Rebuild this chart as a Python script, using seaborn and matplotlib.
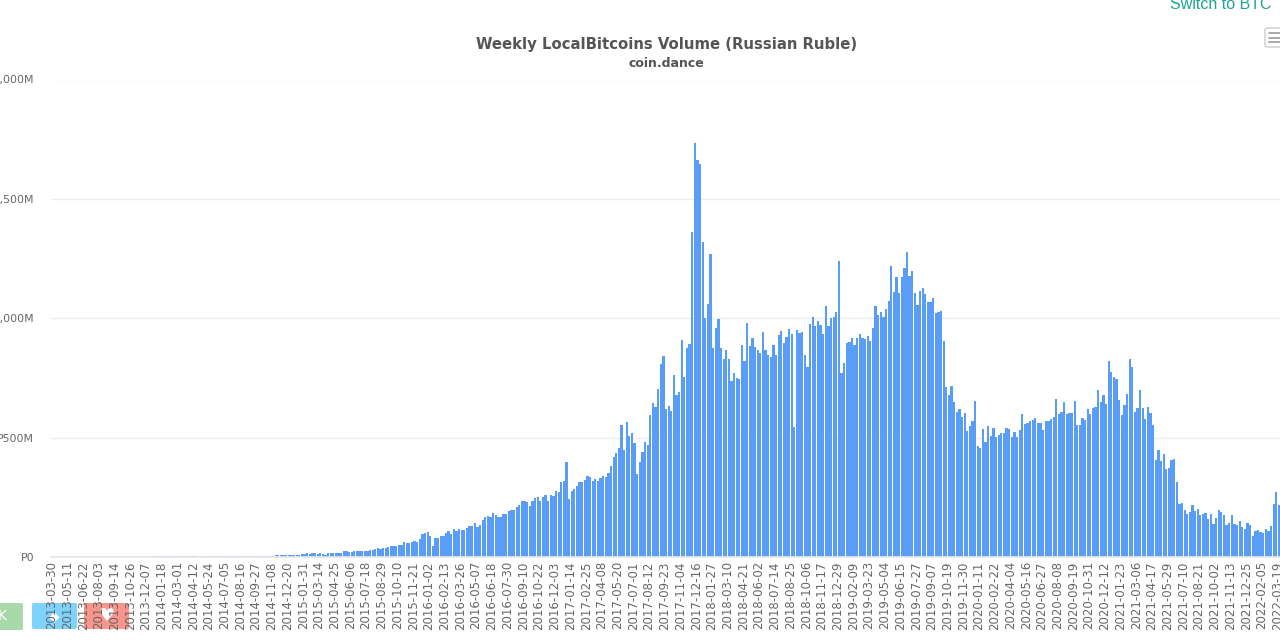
import matplotlib
matplotlib.use("Agg")
import matplotlib.pyplot as plt
from matplotlib.patches import FancyBboxPatch
import numpy as np
import pandas as pd
import seaborn as sns

# weekly volume in millions of rubles
vol_2013 = [0.1, 0.1, 0.2, 0.2, 0.3, 0.2, 0.3, 0.3, 0.4, 0.3, 0.4, 0.4, 0.5, 0.4, 0.5, 0.5, 0.6, 0.6, 0.5, 0.7,
            0.6, 0.7, 0.8, 0.9, 0.8, 1.0, 1.1, 1.0, 1.2, 1.3, 1.3, 1.5, 1.4, 1.2, 1.5, 1.6, 1.4, 1.8, 2.0, 1.7]
vol_2014 = [2.2, 2.4, 2.1, 2.3, 2.6, 2.8, 2.4, 2.9, 3.1, 3.6, 4.5, 4.0, 3.8, 2.6, 2.3, 2.1, 2.0, 1.9, 2.2, 1.8,
            2.0, 2.2, 2.4, 2.1, 2.5, 2.6, 2.3, 2.7, 2.9, 2.5, 2.8, 3.0, 3.2, 2.9, 3.4, 3.6, 3.4, 3.8, 4.2, 4.6,
            4.3, 5.0, 5.4, 5.8, 6.2, 5.7, 6.6, 7.5, 8.6, 9.4, 9.0, 8.4]
vol_2015 = [7, 7, 7, 8, 14, 14, 17, 14, 15, 15, 14, 17, 11, 10, 15, 16, 16, 17, 16, 15, 24, 26, 21, 21, 24, 26,
            27, 27, 27, 27, 31, 31, 33, 38, 35, 37, 37, 42, 48, 48, 48, 49]
vol_2016 = [52, 62, 60, 60, 63, 66, 64, 77, 95, 102, 103, 88, 47, 80, 80, 87, 89, 99, 110, 98, 116, 108, 119,
            113, 113, 123, 129, 130, 142, 126, 133, 155, 168, 172, 166, 183, 176, 169, 168, 180, 182, 191, 198,
            198, 211, 218, 235, 236, 229, 215, 236, 249, 253, 233, 251, 261, 235, 260, 257, 275, 274, 314, 318, 397]
vol_2017 = [242, 275, 284, 296, 316, 313, 321, 339, 335, 317, 328, 320, 332, 338, 337, 353, 380, 418, 434, 455,
            552, 447, 566, 507, 518, 476, 346, 398, 439, 483, 471, 595, 644, 630, 705, 807, 840, 619, 633, 612,
            763, 679, 693, 910, 752, 877, 891, 1361, 1734, 1664, 1647, 1319]
vol_2018 = [999, 1060, 1270, 875, 960, 996, 875, 831, 868, 828, 739, 770, 749, 745, 887, 823, 981, 883, 918, 879,
            865, 856, 944, 868, 847, 837, 888, 847, 930, 947, 897, 923, 955, 933, 545, 950, 940, 941, 845, 795,
            975, 1004, 968, 989, 972, 933, 1052, 969, 999, 1006, 1027, 1239]
vol_2019 = [772, 812, 898, 901, 918, 888, 919, 932, 916, 912, 926, 905, 958, 1051, 1013, 1025, 1004, 1037, 1073,
            1217, 1108, 1173, 1104, 1173, 1211, 1277, 1178, 1197, 1106, 1055, 1113, 1125, 1101, 1066, 1069, 1083,
            1020, 1027, 1032, 904, 711, 679, 715, 650, 609, 619, 588, 602, 527, 549, 570, 652]
vol_2020 = [467, 458, 536, 482, 548, 507, 541, 502, 510, 518, 518, 539, 538, 504, 524, 504, 531, 599, 555, 560,
            569, 573, 581, 560, 563, 534, 569, 569, 580, 588, 661, 601, 608, 648, 601, 605, 602, 652, 552, 553,
            584, 574, 620, 601, 624, 627, 701, 650, 678, 640, 820, 775]
vol_2021 = [756, 747, 657, 594, 637, 682, 830, 795, 606, 623, 698, 623, 578, 627, 603, 553, 407, 448, 402, 430,
            370, 372, 405, 409, 316, 222, 225, 198, 182, 190, 218, 191, 200, 177, 179, 184, 158, 180, 138, 163,
            196, 187, 175, 133, 144, 177, 138, 134, 149, 127, 116, 144]
vol_2022 = [133, 88, 109, 113, 106, 102, 116, 108, 130, 222, 274, 218]

tick_labels = [
    "2013-03-30", "2013-05-11", "2013-06-22", "2013-08-03", "2013-09-14", "2013-10-26", "2013-12-07",
    "2014-01-18", "2014-03-01", "2014-04-12", "2014-05-24", "2014-07-05", "2014-08-16", "2014-09-27",
    "2014-11-08", "2014-12-20", "2015-01-31", "2015-03-14", "2015-04-25", "2015-06-06", "2015-07-18",
    "2015-08-29", "2015-10-10", "2015-11-21", "2016-01-02", "2016-02-13", "2016-03-26", "2016-05-07",
    "2016-06-18", "2016-07-30", "2016-09-10", "2016-10-22", "2016-12-03", "2017-01-14", "2017-02-25",
    "2017-04-08", "2017-05-20", "2017-07-01", "2017-08-12", "2017-09-23", "2017-11-04", "2017-12-16",
    "2018-01-27", "2018-03-10", "2018-04-21", "2018-06-02", "2018-07-14", "2018-08-25", "2018-10-06",
    "2018-11-17", "2018-12-29", "2019-02-09", "2019-03-23", "2019-05-04", "2019-06-15", "2019-07-27",
    "2019-09-07", "2019-10-19", "2019-11-30", "2020-01-11", "2020-02-22", "2020-04-04", "2020-05-16",
    "2020-06-27", "2020-08-08", "2020-09-19", "2020-10-31", "2020-12-12", "2021-01-23", "2021-03-06",
    "2021-04-17", "2021-05-29", "2021-07-10", "2021-08-21", "2021-10-02", "2021-11-13", "2021-12-25",
    "2022-02-05", "2022-03-19",
]
y_ticks = [0, 500, 1000, 1500, 2000]
y_labels = ["P0", "P500M", "P1,000M", "P1,500M", "P2,000M"]

W, H = 1280, 640
BAR_COLOR = "#4893f6"
TEXT = "#666666"

sns.set_theme(style="white")
plt.rcParams["font.family"] = ["DejaVu Sans"]


# Put the axes on pixel positions of the reference
def px_axes(fig, left, top, right, bottom):
    return fig.add_axes([left / W, 1 - bottom / H, (right - left) / W, (bottom - top) / H])


def add_button(fig, x0, y0, x1, y1, color, label=None, size=10):
    box = FancyBboxPatch((x0 / W, 1 - y1 / H), (x1 - x0) / W, (y1 - y0) / H,
                         boxstyle="round,pad=0,rounding_size=0.002", transform=fig.transFigure,
                         facecolor=color, edgecolor="none", zorder=-1)
    fig.add_artist(box)
    if label:
        fig.text((x0 + x1) / 2 / W, 1 - (y0 + y1) / 2 / H, label, color="white", fontsize=size,
                 ha="center", va="center", zorder=-1)


def main():
    volume = vol_2013 + vol_2014 + vol_2015 + vol_2016 + vol_2017 + vol_2018 + vol_2019 + vol_2020 + vol_2021 + vol_2022
    df = pd.DataFrame({"week": np.arange(len(volume)).astype(str), "volume": volume})

    fig = plt.figure(figsize=(W / 100, H / 100), dpi=100, facecolor="white")
    ax = px_axes(fig, 51, 79.5, 1280, 557)
    ax.set_facecolor("none")

    sns.barplot(data=df, x="week", y="volume", color=BAR_COLOR, width=0.86, alpha=0.9,
                saturation=1, linewidth=0, ax=ax)

    ax.set_xlim(0.2, 469.4)
    ax.set_ylim(0, 2000)
    ax.set_xlabel("")
    ax.set_ylabel("")
    ax.set_axisbelow(True)
    ax.grid(axis="y", color="#eeeeee", linewidth=1)
    ax.grid(axis="x", visible=False)
    sns.despine(ax=ax, left=True, right=True, top=True)
    ax.spines["bottom"].set_color("#e6e6e6")

    ax.set_yticks(y_ticks)
    ax.set_yticklabels(y_labels, fontsize=7.9, color=TEXT)
    ax.tick_params(axis="y", length=0, pad=12)
    ax.set_xticks(np.arange(len(tick_labels)) * 6 + 0.5)
    ax.set_xticklabels(tick_labels, rotation=90, fontsize=8.5, color=TEXT)
    ax.tick_params(axis="x", length=0, pad=3)

    fig.text(666.5 / W, 1 - 44 / H, "Weekly LocalBitcoins Volume (Russian Ruble)", fontsize=10.7,
             fontweight="bold", color="#555555", ha="center", va="center")
    fig.text(666.5 / W, 1 - 63.5 / H, "coin.dance", fontsize=9, fontweight="bold", color="#555555",
             ha="center", va="center")
    fig.text(1272 / W, 1 - 4.5 / H, "Switch to BTC", fontsize=11.5, family="Liberation Sans", color="#1fa58f",
             ha="right", va="center")

    # share buttons behind the tick labels
    add_button(fig, -19, 603, 23, 630, "#a9d8ab", "K")
    add_button(fig, 32, 603, 77, 629, "#7dd3fc", "◆")
    add_button(fig, 84, 603, 129, 629, "#f9958c", "♥", 13)

    # menu button at the top right
    menu = FancyBboxPatch((1265 / W, 1 - 47 / H), 24 / W, 19 / H, boxstyle="round,pad=0,rounding_size=0.003",
                          transform=fig.transFigure, facecolor="white", edgecolor="#cccccc", linewidth=1)
    fig.add_artist(menu)
    for y in [33, 37.5, 42]:
        fig.add_artist(plt.Line2D([1269 / W, 1280 / W], [1 - y / H, 1 - y / H], color="#999999", linewidth=1.2,
                                  transform=fig.transFigure))

    fig.savefig("out.png", dpi=100)


if __name__ == "__main__":
    main()
